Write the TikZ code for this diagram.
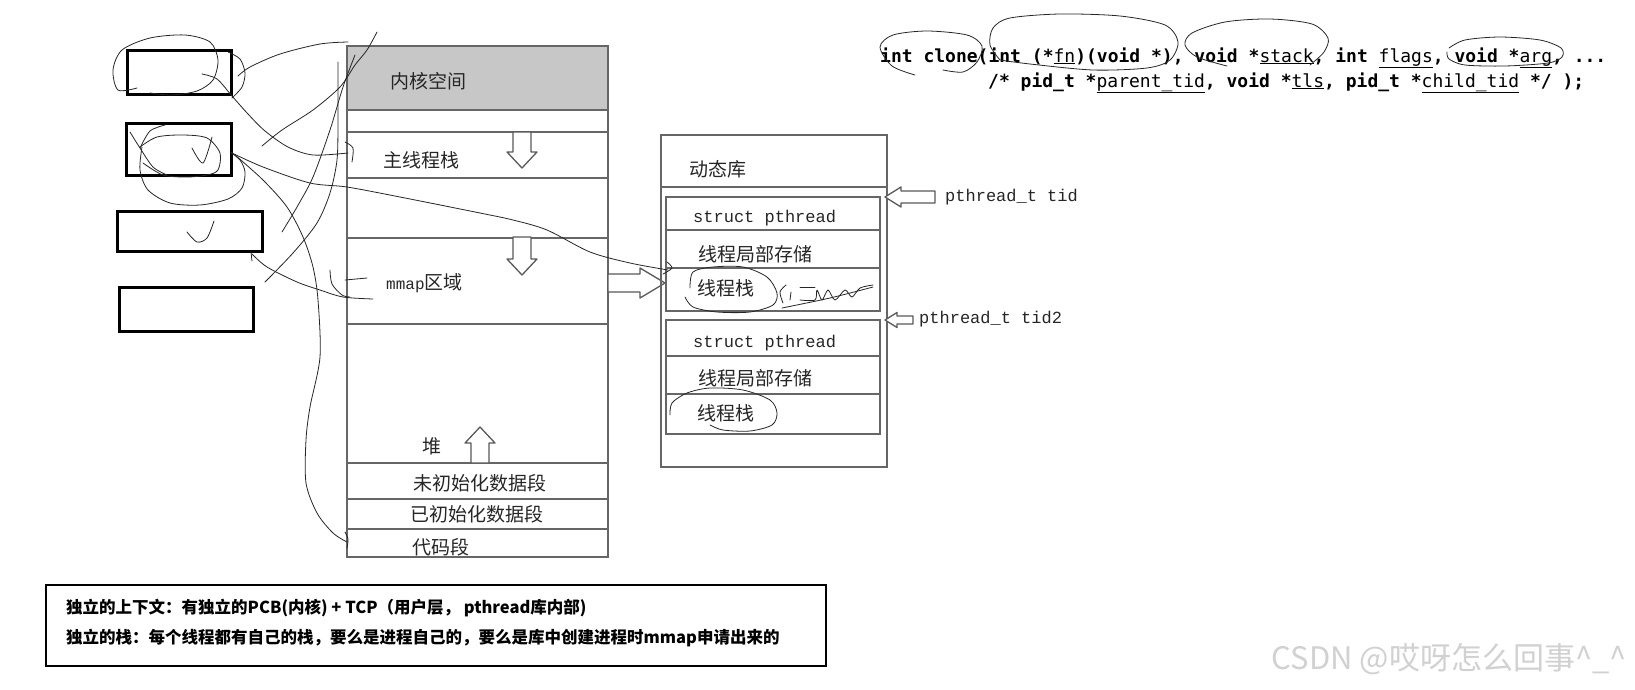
\documentclass[tikz,border=0pt]{standalone}
\usepackage{fontspec}
\newfontfamily\cjk{Noto Sans CJK SC}
\newfontfamily\codefont{DejaVu Sans Mono}
\newfontfamily\monofont{Liberation Mono}
\tikzset{
  seg/.style={draw=black!60, line width=1.5pt},
  colframe/.style={draw=black!60, line width=2.2pt},
  lbl/.style={font=\cjk\fontsize{19}{22}\selectfont, text=black!85, inner sep=0pt, anchor=west},
  mlbl/.style={font=\monofont\fontsize{17}{20}\selectfont, text=black!85, inner sep=0pt, anchor=west},
  codeline/.style={font=\codefont\bfseries\fontsize{18}{22}\selectfont, inner sep=0pt, anchor=base west},
  notetext/.style={font=\cjk\bfseries\fontsize{16.5}{20}\selectfont, inner sep=0pt, anchor=west},
  hollowline/.style={draw=black!65, fill=white, line width=1.3pt, line join=round},
  pen/.style={draw=black!85, line width=0.8pt, line cap=round, line join=round},
  slot/.style={draw=black, line width=3pt, inner sep=0pt},
  % length / shaft / head width / head length
  pics/hollowarrow/.style args={#1/#2/#3/#4}{code={
    \draw[hollowline] (0,{-#2/2}) -- ({#1-#4},{-#2/2}) -- ({#1-#4},{-#3/2}) -- (#1,0)
      -- ({#1-#4},{#3/2}) -- ({#1-#4},{#2/2}) -- (0,{#2/2}) -- cycle;
  }}
}
\newcommand\param[1]{\underline{\mdseries #1}}
\begin{document}
\begin{tikzpicture}[x=1pt,y=-1pt]
  \fill[white] (0,0) rectangle (1635,689);
  \useasboundingbox (0,0) rectangle (1635,689);

  % left slots
  \node[slot, minimum width=104pt, minimum height=44pt] (slotA) at (179.5,72.5) {};
  \node[slot, minimum width=105pt, minimum height=52pt] (slotB) at (179,149.5) {};
  \node[slot, minimum width=145pt, minimum height=40pt] (slotC) at (190,231.5) {};
  \node[slot, minimum width=134pt, minimum height=44pt] (slotD) at (186.5,309.5) {};

  % process address space
  \fill[black!22] (347,46) rectangle (608,110);
  \draw[colframe] (347,46) rectangle (608,557);
  \foreach \yy in {110,132,178,238,324,463,499,529}
    \draw[seg] (347,\yy) -- (608,\yy);
  \node[lbl] (kernel) at (390,81) {内核空间};
  \node[lbl] (mainstack) at (383,160) {主线程栈};
  \node[lbl] (mmap) at (386,283) {{\monofont\fontsize{16}{20}\selectfont mmap}区域};
  \node[lbl] (heap) at (422,446) {堆};
  \node[lbl] (bss) at (413,483) {未初始化数据段};
  \node[lbl] (data) at (410,514) {已初始化数据段};
  \node[lbl] (code) at (412,547) {代码段};
  \pic[rotate=-90] (growA) at (522,132) {hollowarrow={36/18/30/16}};
  \pic[rotate=-90] (growB) at (522,237) {hollowarrow={38/18/30/16}};
  \pic[rotate=90] (growHeap) at (480,463) {hollowarrow={36/18/30/16}};
  \pic (toLib) at (608,283) {hollowarrow={57/18/30/25}};

  % dynamic library
  \draw[colframe] (661,135) rectangle (887,467);
  \draw[seg] (661,187) -- (887,187);
  \draw[seg] (666,197) rectangle (880,311);
  \draw[seg] (666,230) -- (880,230);
  \draw[seg] (666,268) -- (880,268);
  \draw[seg] (666,320) rectangle (880,434);
  \draw[seg] (666,356) -- (880,356);
  \draw[seg] (666,394) -- (880,394);
  \node[lbl] (dynlib) at (689,169) {动态库};
  \node[mlbl] (tcbA) at (693,218) {struct pthread};
  \node[lbl] (tlsA) at (698,254) {线程局部存储};
  \node[lbl] (stkA) at (697,288) {线程栈};
  \node[mlbl] (tcbB) at (693,343) {struct pthread};
  \node[lbl] (tlsB) at (698,378) {线程局部存储};
  \node[lbl] (stkB) at (697,413) {线程栈};
  \pic[rotate=180] (ptrA) at (935,197) {hollowarrow={50/12/20/16}};
  \pic[rotate=180] (ptrB) at (913,320) {hollowarrow={28/8/15/12}};
  \node[mlbl] (tidA) at (945,197) {pthread\_t tid};
  \node[mlbl] (tidB) at (919,319) {pthread\_t tid2};

  % clone prototype
  \node[codeline] (sigA) at (880,62) {int clone(int (*\param{fn})(void *), void *\param{stack}, int \param{flags}, void *\param{arg}, ...};
  \node[codeline] (sigB) at (988,87) {/* pid\_t *\param{parent\_tid}, void *\param{tls}, pid\_t *\param{child\_tid} */ );};

  % note
  \node[draw=black, line width=2.5pt, minimum width=780pt, minimum height=81pt, inner sep=0pt] (note) at (436,625.5) {};
  \node[notetext] (noteA) at (66,608) {独立的上下文：有独立的PCB(内核) + TCP（用户层， pthread库内部)};
  \node[notetext] (noteB) at (66,638) {独立的栈：每个线程都有自己的栈，要么是进程自己的，要么是库中创建进程时mmap申请出来的};
  \node[font=\cjk\fontsize{31}{34}\selectfont, text=black!18, inner sep=0pt, anchor=east] (mark) at (1627,659) {CSDN @哎呀怎么回事\textasciicircum\_\textasciicircum};

  % pen strokes
  \draw[pen] plot[smooth] coordinates {(137,88) (118,90) (113,70) (122,50) (150,38) (185,35) (210,42) (218,60) (213,80) (197,91) (172,95) (150,93)};
  \draw[pen] plot[smooth] coordinates {(228,52) (240,59) (245,73) (242,87) (232,98)};
  \draw[pen] plot[smooth] coordinates {(238,76) (250,67) (280,54) (320,44) (348,42)};
  \draw[pen] plot[smooth] coordinates {(202,74) (217,79) (232,96) (248,114) (265,131) (288,147) (313,155) (348,153)};
  \draw[pen] plot[smooth] coordinates {(345,142) (353,148) (352,162)};
  \draw[pen] plot[smooth] coordinates {(262,146) (282,130) (313,110) (340,87) (355,65) (367,50) (377,32)};
  \draw[pen] plot[smooth] coordinates {(265,282) (293,253) (317,223) (330,193) (337,160) (338,120) (338,62)};
  \draw[pen] plot[smooth] coordinates {(282,232) (297,207) (313,177) (330,130) (343,87) (355,55)};
  \draw[pen] plot[smooth] coordinates {(232,153) (263,167) (310,183) (347,187) (400,197) (480,213) (513,220) (547,230) (590,252) (630,263) (668,270)};
  \draw[pen] plot[smooth] coordinates {(667,262) (672,268) (663,274)};
  \draw[pen] plot[smooth] coordinates {(235,155) (263,180) (287,207) (303,237) (313,267) (318,300) (320,357) (310,407) (306,440) (306,483) (317,513) (333,533) (347,542)};
  \draw[pen] plot[smooth] coordinates {(345,532) (348,539) (347,548)};
  \draw[pen] plot[smooth] coordinates {(142,147) (140,170) (148,190) (170,203) (200,205) (228,199) (242,188) (245,172) (240,160) (230,152)};
  \draw[pen] plot[smooth] coordinates {(140,147) (157,137) (183,135) (207,138) (220,153) (218,170) (207,175) (187,177) (163,175) (143,163)};
  \draw[pen] plot[smooth] coordinates {(130,132) (140,148) (153,167) (167,175)};
  \draw[pen] plot[smooth] coordinates {(140,148) (150,131) (165,125)};
  \draw[pen] plot[smooth] coordinates {(192,148) (203,163) (212,137)};
  \draw[pen] plot[smooth] coordinates {(187,232) (197,242) (207,238) (214,221)};
  \draw[pen] plot[smooth] coordinates {(252,254) (267,267) (297,282) (320,290) (343,297) (373,299)};
  \draw[pen] (251,252) -- (252,261);
  \draw[pen] plot[smooth] coordinates {(330,270) (332,284) (342,295) (350,297)};
  \draw[pen] (345,280) -- (367,278);
  \draw[pen] plot[smooth] coordinates {(690,288) (693,272) (713,267) (743,267) (767,277) (777,293) (773,305) (750,312) (717,312) (693,307) (685,297)};
  \draw[pen] plot[smooth] coordinates {(783,303) (780,292) (786,285)};
  \draw[pen] (790,300) -- (791,292);
  \draw[pen] (800,287) -- (815,287);
  \draw[pen] plot[smooth] coordinates {(800,300) (815,300) (817,290) (822,300) (828,290) (835,300) (845,290) (852,297) (860,288) (873,285)};
  \draw[pen] plot[smooth] coordinates {(782,308) (830,298) (873,287)};
  \draw[pen] plot[smooth] coordinates {(670,415) (672,403) (687,393) (710,388) (743,390) (770,400) (777,413) (772,425) (750,431) (723,430) (710,425)};
  \draw[pen] plot[smooth] coordinates {(915,75) (892,66) (880,47) (893,35) (927,31) (967,35) (982,46) (977,62) (963,72) (943,70)};
  \draw[pen] plot[smooth] coordinates {(1000,60) (990,45) (993,28) (1010,18) (1060,14) (1120,16) (1165,25) (1178,42) (1170,60) (1147,68) (1093,70) (1030,64) (1000,60)};
  \draw[pen] plot[smooth] coordinates {(1227,66) (1197,57) (1185,45) (1192,33) (1225,22) (1270,19) (1312,24) (1328,38) (1324,52) (1310,65)};
  \draw[pen] plot[smooth] coordinates {(1449,48) (1465,40) (1500,37) (1540,40) (1561,48) (1562,57) (1548,63) (1505,66) (1465,65) (1449,59) (1447,52)};
\end{tikzpicture}
\end{document}
